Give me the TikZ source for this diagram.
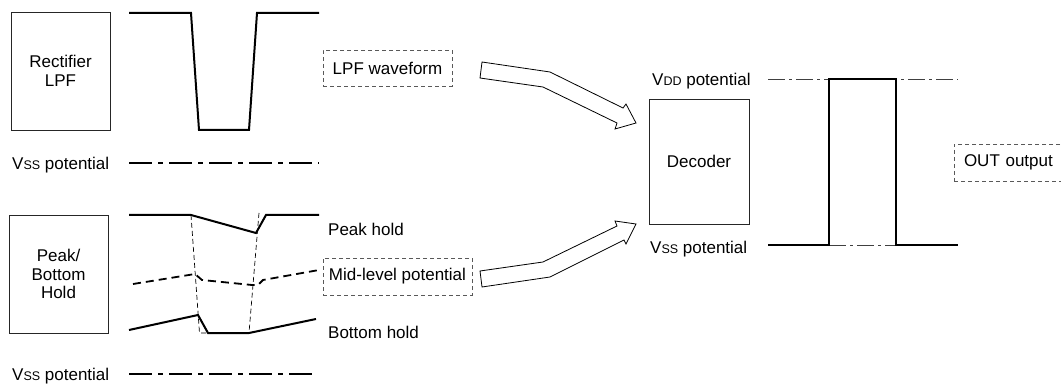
\documentclass[tikz,border=0pt]{standalone}
\usepackage{fontspec}
\setmainfont{Liberation Sans}
\newcommand{\smc}[1]{{\fontsize{12.5}{12.5}\selectfont #1}}
\begin{document}
\begin{tikzpicture}[x=1pt,y=-1pt,
  font=\fontsize{17}{18.5}\selectfont,
  blk/.style={draw=black!85, line width=0.8pt, inner sep=0pt, align=center},
  tag/.style={draw=black!65, dashed, dash pattern=on 4pt off 3pt, line width=0.7pt, inner sep=0pt},
  txt/.style={anchor=base west, inner sep=0pt},
  wave/.style={line width=2pt, line join=miter},
  dashwave/.style={line width=1.8pt, dash pattern=on 8pt off 5pt},
  guide/.style={line width=0.7pt, dash pattern=on 5pt off 3pt},
  vssline/.style={line width=1.8pt, dash pattern=on 23pt off 6pt on 5pt off 6pt},
  refline/.style={line width=0.8pt, black!75, dash pattern=on 17pt off 4pt on 3pt off 4pt},
  blockarrow/.style={draw=black, fill=white, line width=0.8pt, line join=miter}
]
\useasboundingbox (0,0) rectangle (1061,385);

% blocks
\node[blk, minimum width=99pt, minimum height=118pt] (rect) at (60.5,71) {Rectifier\\LPF};
\node[blk, minimum width=99pt, minimum height=118pt] (pbh) at (58.5,274) {Peak/\\Bottom\\Hold};
\node[blk, minimum width=100pt, minimum height=125pt] (dec) at (699,161.5) {Decoder};

% dashed tags
\node[tag, minimum width=129pt, minimum height=36pt] (lpfw) at (387.5,68) {LPF waveform};
\node[tag, minimum width=149pt, minimum height=37pt] (mid) at (397.5,276.5) {Mid-level potential};
\node[tag, minimum width=108pt, minimum height=37pt, text width=108pt, align=left] (out) at (1008,162.5) {\hspace*{10pt}OUT output};

% plain labels
\node[txt] (vss1) at (12,170) {V\smc{SS} potential};
\node[txt] (vss2) at (12,380) {V\smc{SS} potential};
\node[txt] (peak) at (328,236) {Peak hold};
\node[txt] (bot) at (328,338) {Bottom hold};
\node[txt] (vdd) at (652,86) {V\smc{DD} potential};
\node[txt] (vss3) at (650,253) {V\smc{SS} potential};

% LPF waveform
\draw[wave] (129,13) -- (191,13) -- (199,130) -- (249,130) -- (257,13) -- (319,13);
\draw[vssline] (129,163) -- (319,163);

% peak / mid / bottom hold waveforms
\draw[guide] (191,215) -- (199.5,333) -- (208,333);
\draw[guide] (259,213) -- (249,333);
\draw[wave] (129,215) -- (191,215) -- (256,233) -- (266,215) -- (319,215);
\draw[dashwave] (133,284) -- (195,274) -- (202,280) -- (252,285) -- (258,285) -- (263,280) -- (319,270);
\draw[wave] (129,330) -- (198,315) -- (208,333) -- (249,333) -- (316,319);
\draw[vssline] (129,374) -- (317,374);

% block arrows
\draw[blockarrow] (482,62) -- (550,72) -- (623,108) -- (626,104) -- (636,123) -- (615,129) -- (617,123) -- (543,87) -- (480,78) -- cycle;
\draw[blockarrow] (480,271) -- (543,262) -- (617,226) -- (615,221) -- (636,224) -- (626,244) -- (624,240) -- (550,277) -- (482,287) -- cycle;

% output waveform
\draw[refline] (768,79) -- (958,79);
\draw[refline] (829,245) -- (896,245);
\draw[wave] (768,245) -- (829,245) -- (829,79) -- (896,79) -- (896,245) -- (958,245);
\end{tikzpicture}
\end{document}
